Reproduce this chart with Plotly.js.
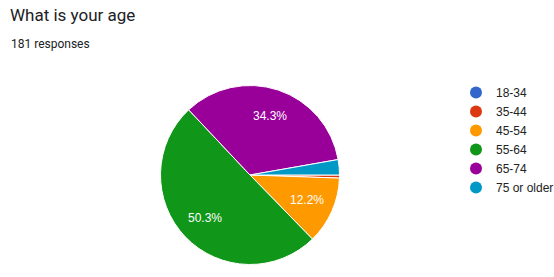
<!DOCTYPE html>
<html>
<head>
<meta charset="utf-8">
<script src="https://cdn.plot.ly/plotly-3.0.1.min.js"></script>
<style>html,body{margin:0;padding:0;background:#fff;}#chart{width:554px;height:277px;}</style>
</head>
<body>
<div id="chart"></div>
<script>
var titleText = 'What is your age';
var subtitleText = '181 responses';
var ageGroups = ['18-34', '35-44', '45-54', '55-64', '65-74', '75 or older'];
var responseCounts = [0, 1, 22, 91, 62, 5];
var sliceColors = ['#3366cc', '#dc3912', '#ff9900', '#109618', '#990099', '#0099c6'];

var total = responseCounts.reduce(function (a, b) { return a + b; }, 0);

var W = 554, H = 277;
var cx = 250, cy = 175, r = 89.5;
var startAngle = 90;

var pie = {
  type: 'pie',
  labels: ageGroups,
  values: responseCounts,
  sort: false,
  direction: 'clockwise',
  rotation: startAngle,
  marker: { colors: sliceColors, line: { color: '#ffffff', width: 1 } },
  textinfo: 'none',
  showlegend: false,
  hoverinfo: 'none',
  domain: { x: [(cx - r) / W, (cx + r) / W], y: [(H - cy - r) / H, (H - cy + r) / H] }
};

var legendTraces = ageGroups.map(function (g, i) {
  return {
    type: 'scatter', mode: 'markers', x: [null], y: [null], name: g,
    marker: { color: sliceColors[i], size: 12, symbol: 'circle' },
    showlegend: true, hoverinfo: 'none'
  };
});

// percentage labels placed along each slice's mid-angle (Google Charts style)
var sliceLabels = [];
var cum = 0;
responseCounts.forEach(function (v) {
  var frac = v / total;
  var mid = (startAngle + (cum + v / 2) / total * 360) * Math.PI / 180;
  cum += v;
  if (frac > 0.05) {
    var px = cx + 0.7 * r * Math.sin(mid);
    var py = cy - 0.7 * r * Math.cos(mid);
    sliceLabels.push({
      text: (frac * 100).toFixed(1) + '%', xref: 'paper', yref: 'paper',
      x: px / W, y: 1 - py / H, xanchor: 'center', yanchor: 'middle', showarrow: false,
      font: { family: 'Liberation Sans, Arial, sans-serif', size: 12, color: '#ffffff' }
    });
  }
});

var layout = {
  width: W, height: H,
  margin: { l: 0, r: 0, t: 0, b: 0, autoexpand: false },
  paper_bgcolor: '#ffffff', plot_bgcolor: '#ffffff',
  xaxis: { visible: false, domain: [0.99, 1] },
  yaxis: { visible: false, domain: [0.99, 1] },
  showlegend: true,
  legend: {
    xref: 'container', yref: 'container',
    x: 456 / W, y: 1 - 78 / H, xanchor: 'left', yanchor: 'top',
    font: { family: 'Liberation Sans, Arial, sans-serif', size: 12, color: '#222222' },
    bgcolor: 'rgba(0,0,0,0)', itemclick: false
  },
  annotations: [
    { text: titleText, xref: 'paper', yref: 'paper', x: 8 / W, y: 1 - 3 / H, xanchor: 'left', yanchor: 'top', showarrow: false,
      font: { family: 'Roboto, sans-serif', size: 17, color: '#202124' } },
    { text: subtitleText, xref: 'paper', yref: 'paper', x: 9 / W, y: 1 - 35 / H, xanchor: 'left', yanchor: 'top', showarrow: false,
      font: { family: 'Roboto, sans-serif', size: 12, color: '#202124' } }
  ].concat(sliceLabels)
};

Plotly.newPlot('chart', [pie].concat(legendTraces), layout, { staticPlot: true, displayModeBar: false });
</script>
</body>
</html>
